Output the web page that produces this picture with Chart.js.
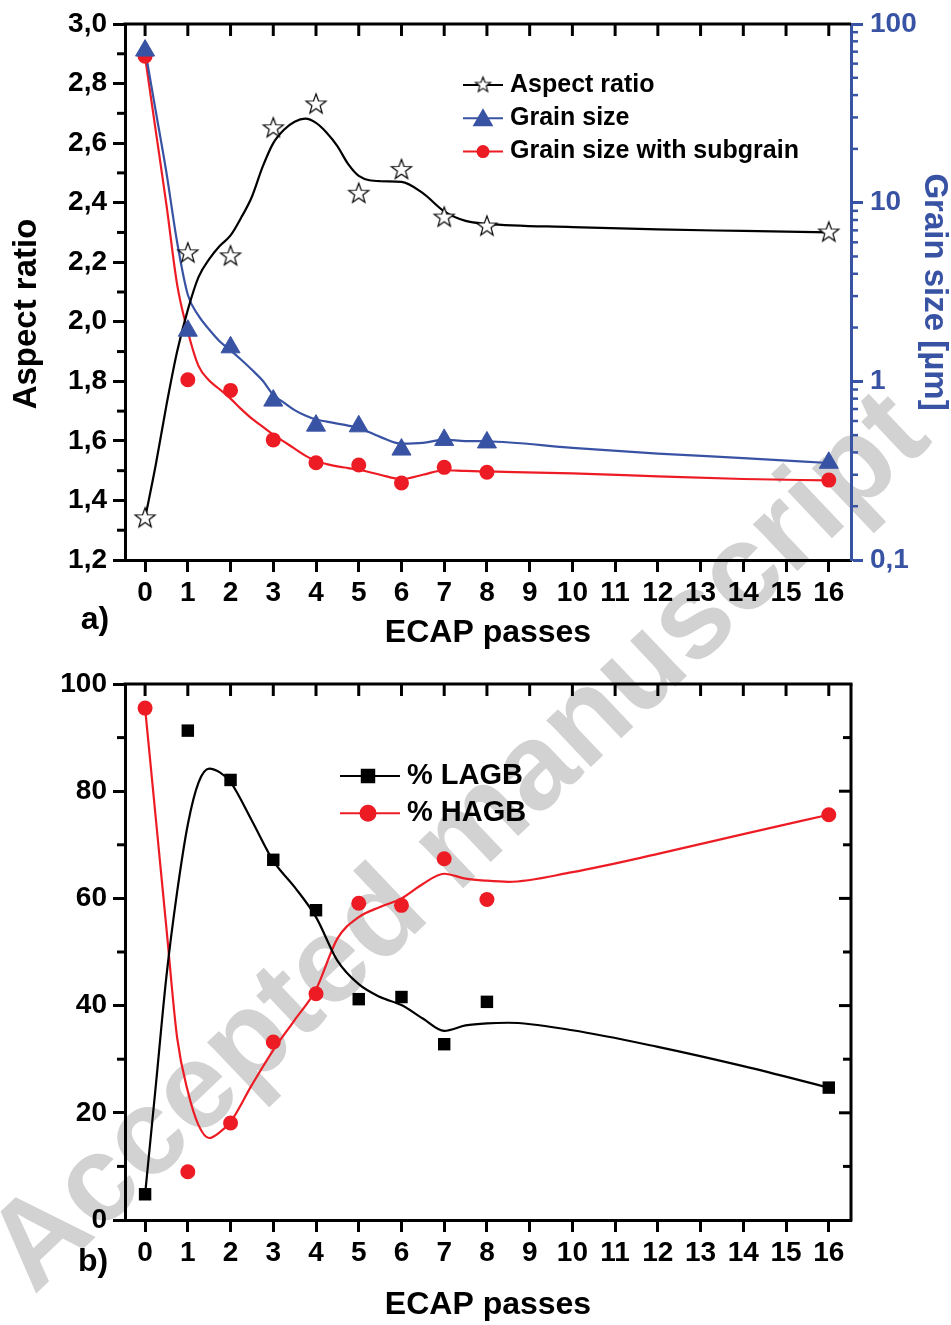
<!DOCTYPE html>
<html>
<head>
<meta charset="utf-8">
<title>ECAP passes</title>
<script src="https://cdn.jsdelivr.net/npm/chart.js@4.4.1/dist/chart.umd.min.js"></script>
<style>
  html, body { margin: 0; padding: 0; background: #fff; }
  #wrap { position: relative; width: 951px; height: 1325px; overflow: hidden; }
  #stamp {
    position: absolute; left: 455px; top: 838px;
    transform: translate(-50%, -50%) rotate(-43.5deg);
    font: bold 122px 'Liberation Sans', Arial, sans-serif;
    line-height: 1; color: #d2d2d2; white-space: nowrap;
  }
  canvas { position: absolute; left: 0; }
  #topChart { top: 0; }
  #bottomChart { top: 660px; }
</style>
</head>
<body>
<div id="wrap">
  <div id="stamp">Accepted manuscript</div>
  <canvas id="topChart" width="951" height="660"></canvas>
  <canvas id="bottomChart" width="951" height="665"></canvas>
</div>
<script>
// ---- measured values ----
const passes = [0, 1, 2, 3, 4, 5, 6, 7, 8, 16];
const aspectRatio = [1.34, 2.23, 2.22, 2.65, 2.73, 2.43, 2.51, 2.35, 2.32, 2.30];
const grainSize = [71, 1.92, 1.55, 0.78, 0.565, 0.56, 0.415, 0.47, 0.455, 0.35];
const grainSizeSub = [66, 1.02, 0.89, 0.47, 0.35, 0.34, 0.27, 0.33, 0.31, 0.28];
const lagb = [4.8, 91.3, 82.1, 67.2, 57.8, 41.2, 41.6, 32.8, 40.7, 24.7];
const hagb = [95.5, 9.0, 18.1, 33.2, 42.2, 59.1, 58.7, 67.4, 59.8, 75.6];

// smoothed fit curves (panel a)
const fitXa = [0, 0.25, 0.5, 0.75, 1, 1.25, 1.5, 1.75, 2, 2.25, 2.5, 2.75, 3, 3.25, 3.5, 3.75, 4,
               4.25, 4.5, 4.75, 5, 5.5, 6, 6.5, 7, 7.5, 8, 10, 12, 14, 16];
const aspectFit = [1.34, 1.52, 1.72, 1.90, 2.04, 2.15, 2.21, 2.255, 2.29, 2.35, 2.42, 2.52, 2.60, 2.645,
                   2.672, 2.682, 2.668, 2.635, 2.59, 2.53, 2.49, 2.472, 2.47, 2.432, 2.371, 2.339, 2.329,
                   2.318, 2.31, 2.305, 2.30];
const grainFit = [71.8, 32.5, 14.7, 6.0, 3.05, 2.33, 1.95, 1.67, 1.49, 1.32, 1.16, 1.01, 0.84, 0.76,
                  0.69, 0.643, 0.611, 0.595, 0.58, 0.565, 0.548, 0.489, 0.448, 0.452, 0.472, 0.463,
                  0.462, 0.424, 0.394, 0.372, 0.349];
const grainSubFit = [65.4, 25.2, 9.72, 3.48, 1.90, 1.22, 1.01, 0.90, 0.80, 0.699, 0.618, 0.558, 0.503,
                     0.46, 0.42, 0.384, 0.357, 0.344, 0.334, 0.327, 0.32, 0.30, 0.284, 0.30, 0.318,
                     0.315, 0.313, 0.305, 0.294, 0.284, 0.279];

// smoothed fit curves (panel b)
const fitXb = [0, 0.25, 0.5, 0.75, 1, 1.25, 1.5, 1.75, 2, 2.5, 3, 3.5, 4, 4.5, 5, 5.5, 6, 6.5, 7,
               7.5, 8, 8.5, 10, 12, 14, 16];
const lagbFit = [4.8, 25.0, 45.5, 61.2, 73.8, 81.6, 84.2, 83.5, 81.7, 74.5, 67.0, 62.1, 56.5, 48.4,
                 44.0, 41.6, 40.1, 37.6, 35.3, 36.3, 36.7, 36.8, 35.4, 32.3, 28.7, 24.7];
const hagbFit = [95.5, 75.0, 54.4, 34.0, 24.0, 17.7, 15.3, 16.4, 18.3, 25.2, 31.7, 37.3, 43.0, 52.5,
                 56.5, 58.4, 60.0, 62.7, 64.6, 63.7, 63.3, 63.1, 64.9, 68.3, 72.0, 75.6];

// ---- axes ----
const passTicks = [0, 1, 2, 3, 4, 5, 6, 7, 8, 9, 10, 11, 12, 13, 14, 15, 16];
const passLabels = ['0', '1', '2', '3', '4', '5', '6', '7', '8', '9', '10', '11', '12', '13', '14', '15', '16'];
const arTicks = [1.2, 1.4, 1.6, 1.8, 2.0, 2.2, 2.4, 2.6, 2.8, 3.0];
const arLabels = ['1,2', '1,4', '1,6', '1,8', '2,0', '2,2', '2,4', '2,6', '2,8', '3,0'];
const arMinor = [1.3, 1.5, 1.7, 1.9, 2.1, 2.3, 2.5, 2.7, 2.9];
const gsTicks = [0.1, 1, 10, 100];
const gsLabels = ['0,1', '1', '10', '100'];
const freqTicks = [0, 20, 40, 60, 80, 100];
const freqLabels = ['0', '20', '40', '60', '80', '100'];
const freqMinor = [10, 30, 50, 70, 90];

const X_MIN = -0.47, X_MAX = 16.52;
const FONT = "'Liberation Sans', Arial, Helvetica, sans-serif";
const BLACK = '#000000', RED = '#ed1c24', BLUE = '#3953a4';

// open star marker
function makeStar(R, r, lw) {
  const size = Math.ceil(2 * R + 2 * lw + 2);
  const c = document.createElement('canvas');
  c.width = c.height = size;
  const g = c.getContext('2d');
  g.beginPath();
  for (let i = 0; i < 10; i++) {
    const rad = i % 2 === 0 ? R : r;
    const a = -Math.PI / 2 + i * Math.PI / 5;
    const px = size / 2 + rad * Math.cos(a), py = size / 2 + rad * Math.sin(a);
    if (i) g.lineTo(px, py); else g.moveTo(px, py);
  }
  g.closePath();
  g.fillStyle = '#fff';
  g.fill();
  g.lineWidth = lw;
  g.strokeStyle = BLACK;
  g.stroke();
  return c;
}
const starMark = makeStar(10.5, 4.3, 1.2);
const starLegend = makeStar(8, 3.4, 1.1);

function pts(xs, ys) { return xs.map((x, i) => ({ x: x, y: ys[i] })); }

function seg(ctx, x1, y1, x2, y2, w, c) {
  ctx.beginPath();
  ctx.moveTo(x1, y1);
  ctx.lineTo(x2, y2);
  ctx.lineWidth = w;
  ctx.strokeStyle = c;
  ctx.stroke();
}

function label(ctx, s, x, y, size, color, rot, align) {
  ctx.save();
  ctx.translate(x, y);
  ctx.rotate(rot || 0);
  ctx.font = 'bold ' + size + 'px ' + FONT;
  ctx.fillStyle = color;
  ctx.textAlign = align || 'center';
  ctx.textBaseline = 'middle';
  ctx.fillText(s, 0, 0);
  ctx.restore();
}

function legendRow(ctx, item, x1, x2, xm, y, tx, size) {
  seg(ctx, x1, y, x2, y, 2, item.color);
  ctx.fillStyle = item.color;
  ctx.strokeStyle = item.color;
  if (item.marker === 'star') {
    ctx.drawImage(starLegend, xm - starLegend.width / 2, y - starLegend.height / 2);
  } else {
    Chart.helpers.drawPoint(ctx, { pointStyle: item.marker, radius: item.radius, rotation: 0, borderWidth: 1 }, xm, y + (item.dy || 0));
  }
  label(ctx, item.text, tx, y, size, BLACK, 0, 'left');
}

const tickFont = { family: FONT, size: 28, weight: 'bold' };

function xScale(height) {
  return {
    type: 'linear', position: 'bottom', min: X_MIN, max: X_MAX,
    afterBuildTicks: s => { s.ticks = passTicks.map(v => ({ value: v })); },
    afterFit: s => { s.height = height; },
    border: { display: true, width: 3, color: BLACK },
    grid: { drawOnChartArea: false, tickLength: 12, tickWidth: 3, tickColor: BLACK },
    ticks: { autoSkip: false, maxRotation: 0, padding: 4, color: BLACK, font: tickFont,
             callback: (v, i) => passLabels[i] }
  };
}

function leftScale(min, max, values, names) {
  return {
    type: 'linear', position: 'left', min: min, max: max,
    afterBuildTicks: s => { s.ticks = values.map(v => ({ value: v })); },
    afterFit: s => { s.width = 125; },
    border: { display: true, width: 3, color: BLACK },
    grid: { drawOnChartArea: false, tickLength: 12, tickWidth: 3, tickColor: BLACK },
    ticks: { padding: 6, color: BLACK, font: tickFont, callback: (v, i) => names[i] }
  };
}

// ---- panel a ----
const topLegend = [
  { text: 'Aspect ratio', color: BLACK, marker: 'star' },
  { text: 'Grain size', color: BLUE, marker: 'triangle', radius: 10, dy: 2 },
  { text: 'Grain size with subgrain', color: RED, marker: 'circle', radius: 5.5 }
];

const topDecor = {
  id: 'topDecor',
  afterDraw(chart) {
    const { ctx, chartArea: a, scales } = chart;
    ctx.save();
    seg(ctx, a.left - 1.5, a.top, a.right, a.top, 3, BLACK);
    passTicks.forEach(v => {
      const px = scales.x.getPixelForValue(v);
      seg(ctx, px, a.top, px, a.top + 12, 3, BLACK);
    });
    arMinor.forEach(v => {
      const py = scales.y.getPixelForValue(v);
      seg(ctx, a.left - 8, py, a.left, py, 3, BLACK);
    });
    [0.1, 1, 10].forEach(d => {
      for (let m = 2; m <= 9; m++) {
        const py = scales.gs.getPixelForValue(d * m);
        seg(ctx, a.right, py, a.right + 7, py, 2.5, BLUE);
      }
    });
    label(ctx, 'Aspect ratio', 27, 314, 33, BLACK, -Math.PI / 2);
    label(ctx, 'Grain size [µm]', 934, 292, 33, BLUE, Math.PI / 2);
    label(ctx, 'ECAP passes', 488, 633, 32, BLACK, 0);
    label(ctx, 'a)', 95, 620, 32, BLACK, 0);
    topLegend.forEach((item, i) => legendRow(ctx, item, 463, 503, 483, 85 + i * 33.3, 510, 25));
    ctx.restore();
  }
};

new Chart(document.getElementById('topChart'), {
  type: 'scatter',
  data: {
    datasets: [
      { label: 'Aspect ratio', data: pts(passes, aspectRatio), yAxisID: 'y',
        pointStyle: starMark, pointRadius: 10, order: 0 },
      { label: 'Grain size', data: pts(passes, grainSize), yAxisID: 'gs',
        pointStyle: 'triangle', pointRadius: 11, backgroundColor: BLUE, borderColor: BLUE, borderWidth: 1, order: 0 },
      { label: 'Grain size with subgrain', data: pts(passes, grainSizeSub), yAxisID: 'gs',
        pointStyle: 'circle', pointRadius: 7.5, backgroundColor: RED, borderColor: RED, borderWidth: 0, order: 0 },
      { data: pts(fitXa, aspectFit), yAxisID: 'y', showLine: true, pointRadius: 0,
        borderColor: BLACK, borderWidth: 2.2, cubicInterpolationMode: 'monotone', order: 1 },
      { data: pts(fitXa, grainFit), yAxisID: 'gs', showLine: true, pointRadius: 0,
        borderColor: BLUE, borderWidth: 2.2, cubicInterpolationMode: 'monotone', order: 1 },
      { data: pts(fitXa, grainSubFit), yAxisID: 'gs', showLine: true, pointRadius: 0,
        borderColor: RED, borderWidth: 2.2, cubicInterpolationMode: 'monotone', order: 1 }
    ]
  },
  options: {
    responsive: false, animation: false, devicePixelRatio: 1, events: [],
    layout: { padding: { top: 24, left: 0, right: 0, bottom: 0 } },
    plugins: { legend: { display: false }, tooltip: { enabled: false } },
    scales: {
      x: xScale(100),
      y: leftScale(1.2, 3.0, arTicks, arLabels),
      gs: {
        type: 'logarithmic', position: 'right', min: 0.1, max: 100,
        afterBuildTicks: s => { s.ticks = gsTicks.map(v => ({ value: v })); },
        afterFit: s => { s.width = 100; },
        border: { display: true, width: 3, color: BLUE },
        grid: { drawOnChartArea: false, tickLength: 12, tickWidth: 3, tickColor: BLUE },
        ticks: { padding: 7, color: BLUE, font: tickFont, callback: (v, i) => gsLabels[i] }
      }
    }
  },
  plugins: [topDecor]
});

// ---- panel b ----
const bottomLegend = [
  { text: '% LAGB', color: BLACK, marker: 'rect', radius: 8.8 },
  { text: '% HAGB', color: RED, marker: 'circle', radius: 7.5 }
];

const bottomDecor = {
  id: 'bottomDecor',
  afterDraw(chart) {
    const { ctx, chartArea: a, scales } = chart;
    ctx.save();
    seg(ctx, a.left - 1.5, a.top, a.right + 1.5, a.top, 3, BLACK);
    seg(ctx, a.right, a.top, a.right, a.bottom + 1.5, 3, BLACK);
    passTicks.forEach(v => {
      const px = scales.x.getPixelForValue(v);
      seg(ctx, px, a.top, px, a.top + 12, 3, BLACK);
    });
    freqMinor.forEach(v => {
      const py = scales.y.getPixelForValue(v);
      seg(ctx, a.left - 8, py, a.left, py, 3, BLACK);
      seg(ctx, a.right - 8, py, a.right, py, 3, BLACK);
    });
    [20, 40, 60, 80].forEach(v => {
      const py = scales.y.getPixelForValue(v);
      seg(ctx, a.right - 12, py, a.right, py, 3, BLACK);
    });
    label(ctx, 'Frequency [%]', 27, 975, 33, BLACK, -Math.PI / 2);
    label(ctx, 'ECAP passes', 488, 645, 32, BLACK, 0);
    label(ctx, 'b)', 93, 602, 32, BLACK, 0);
    bottomLegend.forEach((item, i) => legendRow(ctx, item, 340, 400, 368, 116 + i * 37.3, 407, 29));
    ctx.restore();
  }
};

new Chart(document.getElementById('bottomChart'), {
  type: 'scatter',
  data: {
    datasets: [
      { label: '% LAGB', data: pts(passes, lagb), pointStyle: 'rect', pointRadius: 8.8,
        backgroundColor: BLACK, borderColor: BLACK, borderWidth: 0, order: 0 },
      { label: '% HAGB', data: pts(passes, hagb), pointStyle: 'circle', pointRadius: 7.5,
        backgroundColor: RED, borderColor: RED, borderWidth: 0, order: 0 },
      { data: pts(fitXb, lagbFit), showLine: true, pointRadius: 0,
        borderColor: BLACK, borderWidth: 2.2, cubicInterpolationMode: 'monotone', order: 1 },
      { data: pts(fitXb, hagbFit), showLine: true, pointRadius: 0,
        borderColor: RED, borderWidth: 2.2, cubicInterpolationMode: 'monotone', order: 1 }
    ]
  },
  options: {
    responsive: false, animation: false, devicePixelRatio: 1, events: [],
    layout: { padding: { top: 24, left: 0, right: 100, bottom: 0 } },
    plugins: { legend: { display: false }, tooltip: { enabled: false } },
    scales: {
      x: xScale(105),
      y: leftScale(0, 100, freqTicks, freqLabels)
    }
  },
  plugins: [bottomDecor]
});
</script>
</body>
</html>
